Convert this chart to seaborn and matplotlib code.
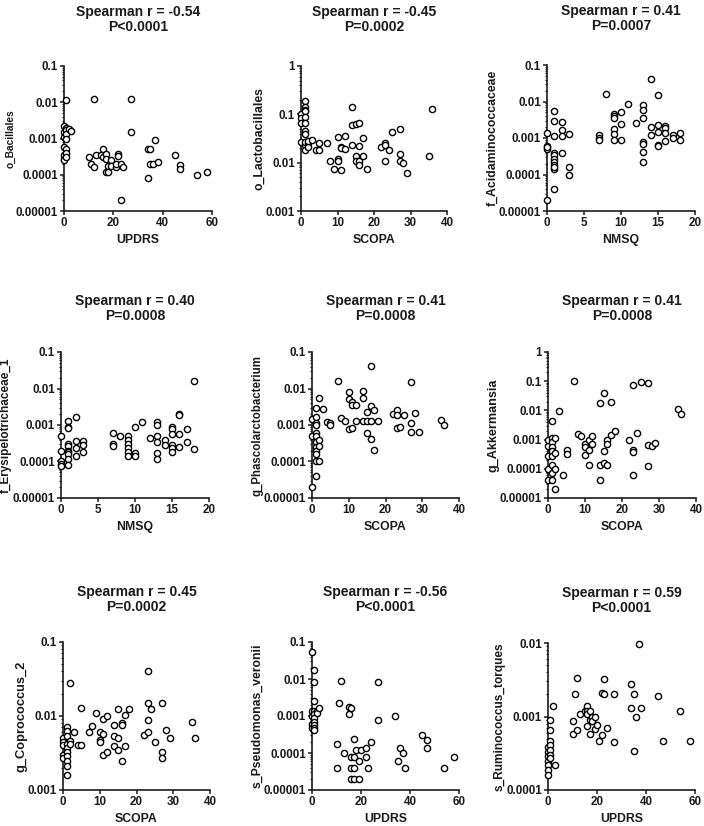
import numpy as np
import pandas as pd
import seaborn as sns
import matplotlib.pyplot as plt
from matplotlib.ticker import FixedLocator, FuncFormatter, LogLocator, NullFormatter

# panel titles and axis labels
titles = ["Spearman r = -0.54\nP<0.0001", "Spearman r = -0.45\nP=0.0002", "Spearman r = 0.41\nP=0.0007",
          "Spearman r = 0.40\nP=0.0008", "Spearman r = 0.41\nP=0.0008", "Spearman r = 0.41\nP=0.0008",
          "Spearman r = 0.45\nP=0.0002", "Spearman r = -0.56\nP<0.0001", "Spearman r = 0.59\nP<0.0001"]
xlabels = ["UPDRS", "SCOPA", "NMSQ", "NMSQ", "SCOPA", "SCOPA", "SCOPA", "UPDRS", "UPDRS"]
ylabels = ["o_Bacillales", "o_Lactobacillales", "f_Acidaminococcaceae", "f_Erysipelotrichaceae_1",
           "g_Phascolarctobacterium", "g_Akkermansia", "g_Coprococcus_2", "s_Pseudomonas_veronii",
           "s_Ruminococcus_torques"]
xmax = [60, 40, 20, 20, 40, 40, 40, 60, 60]
xstep = [20, 10, 5, 5, 10, 10, 10, 20, 20]
ylims = [(1e-5, 0.1), (1e-3, 1), (1e-5, 0.1), (1e-5, 0.1), (1e-5, 0.1), (1e-5, 1), (1e-3, 0.1), (1e-5, 0.1), (1e-4, 0.01)]

# (score, relative abundance)
bacillales = [(0, 0.0022), (0, 0.0015), (0, 0.0011), (0, 0.0006), (0, 0.00035), (0, 0.00028), (0, 0.00025),
              (1, 0.0115), (1, 0.002), (1, 0.0017), (1, 0.0013), (1, 0.001), (1, 0.0005), (1, 0.0004), (1, 0.0003),
              (2, 0.0018), (3, 0.0016), (10, 0.0003), (11, 0.0002), (12, 0.00016), (12, 0.012), (13, 0.00034),
              (15, 0.00035), (16, 0.0005), (16, 0.0003), (17, 0.00038), (17, 0.00028), (17, 0.00012), (18, 0.00017),
              (18, 0.00012), (19, 0.00025), (19, 0.00017), (21, 0.00016), (21, 0.0002), (22, 0.00038), (22, 0.00032),
              (23, 0.0002), (23, 0.00002), (24, 0.00016), (27, 0.012), (27, 0.0015), (34, 0.0005), (34, 0.00008),
              (35, 0.0005), (35, 0.0002), (36, 0.0002), (37, 0.0009), (38, 0.00022), (45, 0.00036), (47, 0.00019),
              (47, 0.00014), (54, 0.0001), (58, 0.00012)]
lactobacillales = [(0, 0.1), (0, 0.085), (0, 0.066), (0, 0.027), (1, 0.19), (1, 0.14), (1, 0.125), (1, 0.12),
                   (1, 0.09), (1, 0.067), (1, 0.045), (1, 0.04), (1, 0.023), (1, 0.018), (1, 0.027), (2, 0.025),
                   (2, 0.021), (2, 0.028), (3, 0.03), (4, 0.018), (5, 0.025), (5, 0.018), (7, 0.025), (8, 0.011),
                   (9, 0.0075), (10, 0.034), (10, 0.012), (10, 0.011), (11, 0.021), (11, 0.02), (11, 0.007),
                   (12, 0.019), (12, 0.036), (14, 0.14), (14, 0.023), (14, 0.06), (15, 0.064), (16, 0.067),
                   (15, 0.014), (15, 0.011), (16, 0.022), (16, 0.011), (16, 0.009), (17, 0.032), (17, 0.014),
                   (18, 0.0075), (22, 0.021), (23, 0.026), (23, 0.023), (23, 0.011), (24, 0.018), (25, 0.043),
                   (27, 0.05), (27, 0.015), (27, 0.011), (28, 0.01), (29, 0.006), (35, 0.014), (36, 0.13)]
acidaminococcaceae = [(0, 0.0014), (0, 0.0006), (0, 0.0005), (0, 0.00055), (0, 0.00002), (1, 0.0055), (1, 0.003),
                      (1, 0.0011), (1, 0.0004), (1, 0.00035), (1, 0.00027), (1, 0.00022), (1, 0.00018), (1, 0.00014),
                      (1, 0.00016), (1, 0.00004), (2, 0.0028), (2, 0.0017), (2, 0.0011), (2, 0.0004), (3, 0.0013),
                      (3, 0.00016), (3, 0.0001), (7, 0.0012), (7, 0.001), (7, 0.0009), (8, 0.016), (9, 0.0045),
                      (9, 0.004), (9, 0.0035), (9, 0.0018), (9, 0.0013), (9, 0.0009), (10, 0.0053), (10, 0.0024),
                      (10, 0.0009), (11, 0.0085), (12, 0.0026), (13, 0.008), (13, 0.0057), (13, 0.0035), (13, 0.00077),
                      (13, 0.0007), (13, 0.00042), (13, 0.00022), (14, 0.042), (14, 0.002), (14, 0.0012), (15, 0.015),
                      (15, 0.0023), (15, 0.0015), (15, 0.00065), (15, 0.0006), (16, 0.0021), (16, 0.0019),
                      (16, 0.0014), (16, 0.00085), (17, 0.0012), (17, 0.001), (18, 0.0014), (18, 0.00088)]
erysipelotrichaceae = [(0, 0.0005), (0, 0.0002), (0, 0.0001), (0, 0.000085), (0, 0.000075), (1, 0.0013), (1, 0.0009),
                       (1, 0.00083), (1, 0.0003), (1, 0.00027), (1, 0.0002), (1, 0.00018), (1, 0.00016), (1, 0.00012),
                       (1, 0.00008), (2, 0.0017), (2, 0.00037), (2, 0.00024), (2, 0.00014), (3, 0.00037), (3, 0.00029),
                       (3, 0.00018), (7, 0.0006), (7, 0.0003), (7, 0.00027), (8, 0.0005), (9, 0.0005), (9, 0.0004),
                       (9, 0.0003), (9, 0.00024), (9, 0.00018), (9, 0.00014), (10, 0.0009), (10, 0.00017),
                       (10, 0.00014), (11, 0.0012), (12, 0.00043), (13, 0.0012), (13, 0.001), (13, 0.0005),
                       (13, 0.00035), (13, 0.00017), (13, 0.00012), (14, 0.0004), (14, 0.00028), (15, 0.0009),
                       (15, 0.0008), (15, 0.00055), (15, 0.00029), (15, 0.00023), (15, 0.00018), (16, 0.002),
                       (16, 0.0019), (16, 0.00055), (16, 0.00025), (17, 0.0008), (17, 0.00034), (18, 0.016),
                       (18, 0.00022)]
phascolarctobacterium = [(0, 0.0015), (0, 0.0005), (0, 0.00002), (1, 0.003), (1, 0.0017), (1, 0.0011), (1, 0.001),
                         (1, 0.0006), (1, 0.0005), (1, 0.00035), (1, 0.00025), (1, 0.0002), (1, 0.00016), (1, 0.0001),
                         (1, 0.00004), (2, 0.0055), (2, 0.0004), (2, 0.00026), (2, 0.0001), (3, 0.0028), (4, 0.0012),
                         (5, 0.0011), (5, 0.001), (7, 0.016), (8, 0.0016), (9, 0.0013), (10, 0.008), (10, 0.005),
                         (10, 0.00077), (11, 0.0044), (11, 0.0035), (11, 0.00085), (12, 0.0035), (12, 0.0013),
                         (14, 0.0085), (14, 0.0055), (14, 0.0013), (15, 0.0023), (15, 0.0013), (15, 0.0006),
                         (16, 0.042), (16, 0.0034), (16, 0.0013), (16, 0.00042), (17, 0.0026), (17, 0.00021),
                         (18, 0.0013), (22, 0.002), (23, 0.0025), (23, 0.0019), (23, 0.00085), (24, 0.0009),
                         (25, 0.0019), (27, 0.015), (27, 0.0011), (27, 0.00066), (28, 0.0022), (29, 0.00063),
                         (35, 0.0014), (36, 0.001)]
akkermansia = [(0, 0.0006), (0, 0.00027), (0, 0.0001), (0, 0.00004), (0, 0.001), (1, 0.0045), (1, 0.0011),
               (1, 0.00085), (1, 0.00058), (1, 0.0004), (1, 0.00027), (1, 0.00014), (1, 0.00007), (1, 0.00004),
               (2, 0.0011), (2, 0.00034), (2, 0.0001), (2, 0.00002), (3, 0.0098), (4, 0.00006), (5, 0.00045),
               (5, 0.00033), (7, 0.1), (8, 0.0016), (9, 0.0013), (10, 0.0007), (10, 0.00055), (10, 0.00029),
               (11, 0.001), (11, 0.00045), (11, 0.00014), (12, 0.0013), (12, 0.0007), (14, 0.018), (14, 0.00014),
               (14, 0.00004), (15, 0.041), (15, 0.0004), (15, 0.00016), (16, 0.001), (16, 0.0007), (16, 0.00014),
               (17, 0.02), (17, 0.0014), (18, 0.0019), (22, 0.001), (23, 0.073), (23, 0.00045), (23, 0.00037),
               (23, 0.00006), (24, 0.0017), (25, 0.092), (27, 0.085), (27, 0.00067), (27, 0.00012), (28, 0.0006),
               (29, 0.00077), (35, 0.011), (36, 0.0074)]
coprococcus = [(0, 0.0051), (0, 0.0045), (0, 0.004), (0, 0.003), (0, 0.0027), (1, 0.0072), (1, 0.0063), (1, 0.0053),
               (1, 0.0042), (1, 0.0037), (1, 0.0033), (1, 0.0029), (1, 0.0025), (1, 0.0021), (1, 0.0016), (2, 0.028),
               (2, 0.0046), (2, 0.0042), (3, 0.0061), (4, 0.004), (5, 0.013), (5, 0.004), (7, 0.0061), (8, 0.0074),
               (9, 0.011), (10, 0.006), (10, 0.0047), (10, 0.0044), (11, 0.0092), (11, 0.0057), (11, 0.003),
               (12, 0.0099), (12, 0.0033), (14, 0.0076), (14, 0.0054), (14, 0.0039), (15, 0.0125), (15, 0.0051),
               (15, 0.0035), (16, 0.008), (16, 0.0076), (16, 0.0025), (17, 0.0104), (17, 0.0039), (18, 0.0125),
               (22, 0.0056), (23, 0.041), (23, 0.015), (23, 0.0087), (23, 0.006), (24, 0.0125), (25, 0.0044),
               (27, 0.0152), (27, 0.0033), (27, 0.0027), (28, 0.0065), (29, 0.0051), (35, 0.0084), (36, 0.0051)]
pseudomonas = [(0, 0.053), (0, 0.0014), (0, 0.001), (0, 0.0006), (0, 0.00047), (1, 0.018), (1, 0.0083), (1, 0.0025),
               (1, 0.0014), (1, 0.0011), (1, 0.0009), (1, 0.0007), (1, 0.00058), (1, 0.00047), (1, 0.00042),
               (2, 0.0014), (2, 0.0012), (3, 0.0016), (10, 0.00018), (10, 0.00004), (11, 0.0022), (12, 0.0088),
               (13, 0.0001), (15, 0.0018), (15, 0.0011), (16, 0.0016), (16, 0.00008), (16, 0.00004), (16, 0.00002),
               (17, 0.00024), (17, 0.00008), (17, 0.00004), (17, 0.00002), (18, 0.00012), (19, 0.00006),
               (19, 0.00002), (20, 0.00012), (22, 0.00014), (22, 0.00008), (23, 0.00004), (24, 0.0002),
               (27, 0.0081), (27, 0.00079), (34, 0.00098), (35, 0.00006), (36, 0.00014), (37, 0.0001),
               (38, 0.00004), (45, 0.0003), (47, 0.00022), (47, 0.00014), (54, 0.00004), (58, 0.00008)]
ruminococcus = [(0, 0.00038), (0, 0.00033), (0, 0.00029), (0, 0.00025), (0, 0.00022), (0, 0.00019), (0, 0.00016),
                (1, 0.0009), (1, 0.00066), (1, 0.00046), (1, 0.00041), (1, 0.00035), (1, 0.0003), (1, 0.00027),
                (2, 0.0014), (3, 0.00022), (10, 0.00087), (10, 0.00058), (11, 0.002), (12, 0.0033), (12, 0.00066),
                (13, 0.00107), (15, 0.0012), (16, 0.0014), (16, 0.0012), (16, 0.00107), (16, 0.00075), (17, 0.00057),
                (17, 0.0009), (17, 0.0012), (18, 0.001), (18, 0.00086), (19, 0.00098), (19, 0.00067), (20, 0.00077),
                (21, 0.00046), (22, 0.0021), (22, 0.00056), (23, 0.0032), (23, 0.002), (24, 0.00069), (27, 0.002),
                (27, 0.00045), (34, 0.0028), (34, 0.0013), (35, 0.002), (35, 0.00034), (36, 0.00097), (37, 0.0097),
                (38, 0.0013), (45, 0.0019), (47, 0.00047), (54, 0.0012), (58, 0.00047)]

panels = [bacillales, lactobacillales, acidaminococcaceae, erysipelotrichaceae, phascolarctobacterium,
          akkermansia, coprococcus, pseudomonas, ruminococcus]

# axes boxes in pixels: left, top, right, bottom
boxes = [(64, 66, 212, 211), (301, 66, 447, 211), (547, 65, 695, 211),
         (61, 352, 209, 498), (312, 352, 459, 498), (548, 352, 696, 498),
         (63, 642, 210, 790), (312, 642, 459, 790), (548, 643, 695, 790)]
ylabel_sizes = [7.3, 8.8, 8.8, 8.5, 8.3, 9.1, 9.3, 8.8, 8.6]
title_pads = [25, 25, 25, 23, 23, 23, 22, 22, 22]

sns.set_style("ticks")
plt.rcParams['font.family'] = ['Liberation Sans', 'DejaVu Sans']
plt.rcParams['font.weight'] = 'bold'
text_color = '#1a1a1a'

W, H = 704, 826
fig = plt.figure(figsize=(W / 100, H / 100), dpi=100)

decimal = FuncFormatter(lambda v, _: np.format_float_positional(v, trim='-'))

for i, pts in enumerate(panels):
    l, t, r, b = boxes[i]
    ax = fig.add_axes([l / W, 1 - b / H, (r - l) / W, (b - t) / H])
    df = pd.DataFrame(pts, columns=['score', 'abundance'])
    sns.scatterplot(data=df, x='score', y='abundance', ax=ax, color='white', edgecolor='black',
                    linewidth=1.0, s=20, clip_on=False, zorder=3, legend=False)
    ax.set_yscale('log')
    ax.set_xlim(0, xmax[i])
    ax.set_ylim(*ylims[i])
    ax.xaxis.set_major_locator(FixedLocator(np.arange(0, xmax[i] + 1, xstep[i])))
    ax.yaxis.set_major_formatter(decimal)
    ax.yaxis.set_minor_locator(LogLocator(base=10, subs=np.arange(2, 10), numticks=20))
    ax.yaxis.set_minor_formatter(NullFormatter())
    sns.despine(ax=ax)
    for side in ['left', 'bottom']:
        ax.spines[side].set_linewidth(1.2)
        ax.spines[side].set_color(text_color)
    ax.tick_params(axis='both', which='major', direction='out', length=3, width=1.1,
                   labelsize=8.4, pad=1.2, colors=text_color)
    ax.tick_params(axis='y', which='minor', direction='out', length=1.8, width=0.8, colors=text_color)
    for lab in ax.get_xticklabels() + ax.get_yticklabels():
        lab.set_fontweight('bold')
    ax.set_xlabel(xlabels[i], fontsize=8.8, fontweight='bold', color=text_color, labelpad=4)
    ax.set_ylabel(ylabels[i], fontsize=ylabel_sizes[i], fontweight='bold', color=text_color, labelpad=0.5)
    ax.set_title(titles[i], fontsize=10, fontweight='bold', color=text_color, pad=title_pads[i],
                 linespacing=1.1)

fig.savefig('out.png', dpi=100)
